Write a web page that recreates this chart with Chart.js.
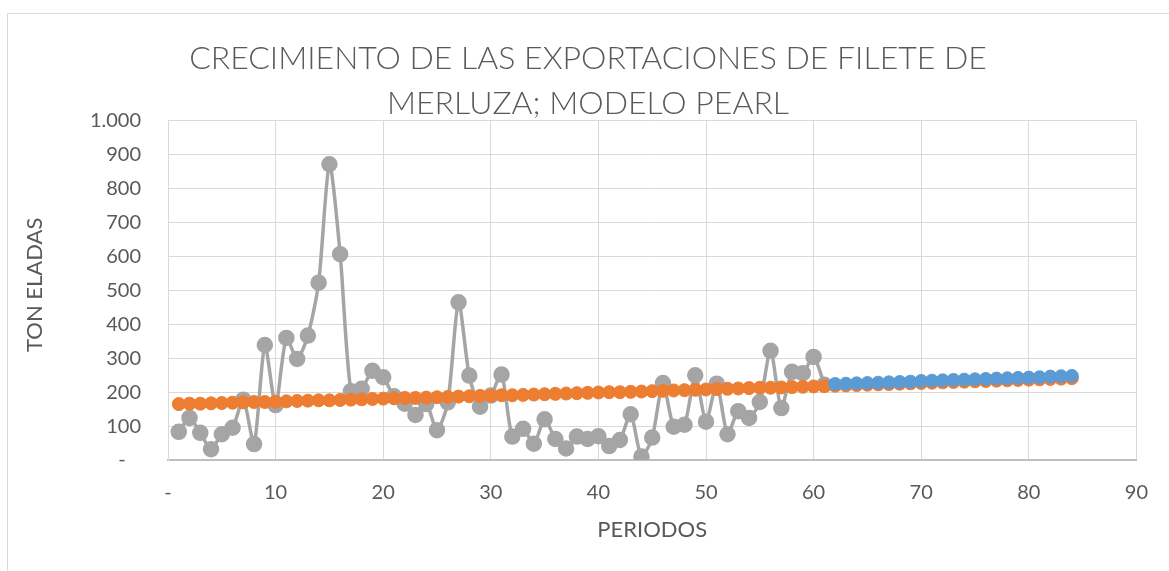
<!DOCTYPE html>
<html lang="es">
<head>
<meta charset="utf-8" />
<script src="https://cdn.jsdelivr.net/npm/chart.js@4.4.1/dist/chart.umd.min.js"></script>
<title>Filete de merluza</title>
<style>
  html, body { margin: 0; padding: 0; background: #fff; overflow: hidden; }
  #marco { position: absolute; left: 7px; top: 13px; width: 1170px; height: 600px; border: 1px solid #d9d9d9; }
  #caja { position: absolute; left: 0; top: 0; width: 1169px; height: 571px; }
</style>
</head>
<body>
<div id="marco"></div>
<div id="caja"><canvas id="grafico" width="1169" height="571"></canvas></div>
<script>
// Exportaciones reales (toneladas), periodos 1 a 61
const periodosReal = [1,2,3,4,5,6,7,8,9,10,11,12,13,14,15,16,17,18,19,20,21,22,23,24,25,26,27,28,29,30,
  31,32,33,34,35,36,37,38,39,40,41,42,43,44,45,46,47,48,49,50,51,52,53,54,55,56,57,58,59,60,61];
const toneladasReal = [83,124,80,32,76,95,178,47,339,162,360,298,367,523,872,607,203,210,263,244,
  188,166,133,165,88,170,465,249,157,190,252,69,92,48,120,62,34,69,62,70,
  41,59,135,10,66,227,98,104,250,113,225,76,144,124,171,322,153,260,256,304,222];

// Modelo Pearl ajustado, periodos 1 a 84
const periodosModelo = [1,2,3,4,5,6,7,8,9,10,11,12,13,14,15,16,17,18,19,20,21,22,23,24,25,26,27,28,29,30,
  31,32,33,34,35,36,37,38,39,40,41,42,43,44,45,46,47,48,49,50,51,52,53,54,55,56,57,58,59,60,
  61,62,63,64,65,66,67,68,69,70,71,72,73,74,75,76,77,78,79,80,81,82,83,84];
const toneladasModelo = [165,166,166,167,168,169,170,171,171,172,173,174,175,176,176,177,178,179,180,181,
  182,183,183,184,185,186,187,188,189,190,191,191,192,193,194,195,196,197,198,199,
  200,200,201,202,203,204,205,206,207,208,209,210,211,212,213,213,214,215,216,217,
  218,219,220,221,222,223,224,225,226,227,228,229,230,231,232,233,234,235,236,237,238,239,240,241];

// Pronostico, periodos 62 a 84
const periodosPronostico = [62,63,64,65,66,67,68,69,70,71,72,73,74,75,76,77,78,79,80,81,82,83,84];
const toneladasPronostico = [224,225,226,227,228,229,230,231,233,234,235,236,237,238,239,240,241,242,243,244,246,247,248];

const titulo = ["CRECIMIENTO DE LAS EXPORTACIONES DE FILETE DE", "MERLUZA; MODELO PEARL"];

function puntos(xs, ys) {
  return xs.map((x, i) => ({ x: x, y: ys[i] }));
}

const gris = "#595959";
const fuenteTicks = { family: "Lato", size: 20 };
const fuenteTitulos = { family: "Lato", size: 22 };

new Chart(document.getElementById("grafico").getContext("2d"), {
  type: "scatter",
  data: {
    datasets: [
      { label: "Pronóstico", data: puntos(periodosPronostico, toneladasPronostico), order: 1,
        backgroundColor: "#5B9BD5", borderColor: "#5B9BD5", pointRadius: 6.5, showLine: false },
      { label: "Modelo Pearl", data: puntos(periodosModelo, toneladasModelo), order: 2,
        backgroundColor: "#ED7D31", borderColor: "#ED7D31", pointRadius: 6.5, showLine: false },
      { label: "Real", data: puntos(periodosReal, toneladasReal), order: 3,
        backgroundColor: "#A5A5A5", borderColor: "#A5A5A5", pointRadius: 6.5, borderWidth: 3.5,
        showLine: true, tension: 0.25 }
    ]
  },
  options: {
    responsive: false,
    animation: false,
    layout: { padding: { left: 38, right: 31, top: 0, bottom: 24 } },
    plugins: {
      legend: { display: false },
      tooltip: { enabled: false },
      title: {
        display: true, text: titulo, color: gris,
        font: { family: "Lato", size: 32, weight: "300", lineHeight: 1.42 },
        padding: { top: 36, bottom: -6 }
      }
    },
    scales: {
      x: {
        type: "linear", min: 0, max: 90,
        ticks: {
          stepSize: 10, padding: 21, color: gris, font: fuenteTicks,
          callback: (v) => v === 0 ? "-" : v
        },
        grid: { color: "#d9d9d9", drawTicks: false },
        border: { color: "#bfbfbf", width: 2 },
        title: { display: true, text: "PERIODOS", color: gris, font: fuenteTitulos },
        afterFit: (s) => { s.height = 87; }
      },
      y: {
        type: "linear", min: 0, max: 1000,
        ticks: {
          stepSize: 100, padding: 27, color: gris, font: fuenteTicks,
          callback: (v) => v === 0 ? "-   " : v.toLocaleString("es-CL")
        },
        grid: { color: "#d9d9d9", drawTicks: false },
        border: { color: "#d9d9d9" },
        title: { display: true, text: "  TON ELADAS", color: gris, font: fuenteTitulos, padding: { top: -16, bottom: 0 } },
        afterFit: (s) => { s.width = 130; }
      }
    }
  }
});
</script>
</body>
</html>
